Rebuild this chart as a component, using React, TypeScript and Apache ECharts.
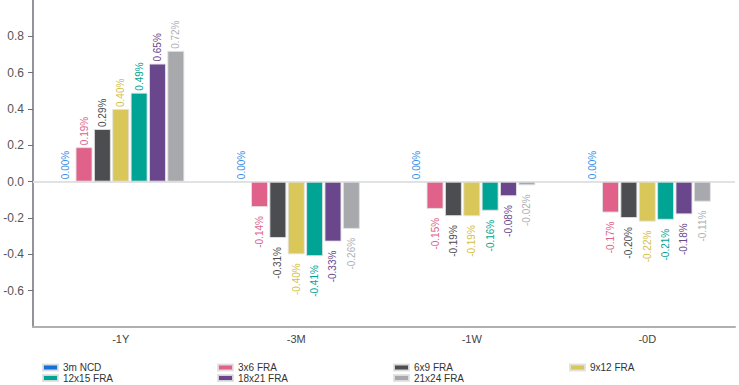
import React, { useEffect, useRef } from "react";
import * as echarts from "echarts";

const categories = ["-1Y", "-3M", "-1W", "-0D"];
const seriesNames = ["3m NCD", "3x6 FRA", "6x9 FRA", "9x12 FRA", "12x15 FRA", "18x21 FRA", "21x24 FRA"];
const colors = ["#1470d6", "#e0628a", "#4b4d51", "#d9c75a", "#00a494", "#6a478c", "#a8a9ad"];
const ncd3m = [0.0, 0.0, 0.0, 0.0];
const fra3x6 = [0.19, -0.14, -0.15, -0.17];
const fra6x9 = [0.29, -0.31, -0.19, -0.2];
const fra9x12 = [0.4, -0.4, -0.19, -0.22];
const fra12x15 = [0.49, -0.41, -0.16, -0.21];
const fra18x21 = [0.65, -0.33, -0.08, -0.18];
const fra21x24 = [0.72, -0.26, -0.02, -0.11];
const seriesValues = [ncd3m, fra3x6, fra6x9, fra9x12, fra12x15, fra18x21, fra21x24];
const labelColors = ["#3a8ee6", "#e0628a", "#4b4d51", "#d4c04a", "#00a494", "#6a478c", "#b0b1b4"];

// legend layout: 4 columns x 2 rows
const legendCols = [42, 217, 393, 569];
const legendRows = [362.5, 373];

export default function App() {
  const ref = useRef<HTMLDivElement>(null);
  useEffect(() => {
    if (!ref.current) return;
    const chart = echarts.init(ref.current, undefined, { renderer: "svg" });
    const font = "Liberation Sans, Arial, sans-serif";
    const series = seriesNames.map((name, si) => ({
      name,
      type: "bar",
      barWidth: 17,
      barGap: "8%",
      barCategoryGap: "27%",
      itemStyle: { color: colors[si], borderColor: "rgba(225,225,225,0.9)", borderWidth: 1 },
      data: seriesValues[si].map((v) => ({
        value: v,
        label: {
          show: true,
          position: v >= 0 ? "top" : "bottom",
          distance: v >= 0 ? 2 : 9,
          rotate: 90,
          align: v >= 0 ? "left" : "right",
          verticalAlign: "middle",
          formatter: () => v.toFixed(2) + "%",
          color: labelColors[si],
          fontSize: 10,
          fontFamily: font,
        },
      })),
      markLine:
        si === 0
          ? {
              silent: true,
              symbol: "none",
              label: { show: false },
              lineStyle: { color: "#e2e2e2", width: 2, type: "solid" },
              data: [{ yAxis: 0 }],
              z: 1,
            }
          : undefined,
    }));
    const legends = seriesNames.map((name, i) => ({
      data: [name],
      left: legendCols[i % 4],
      top: legendRows[Math.floor(i / 4)],
      padding: 0,
      itemWidth: 15,
      itemHeight: 6,
      itemGap: 0,
      icon: "rect",
      selectedMode: false,
      textStyle: { fontSize: 10, color: "#333", fontFamily: font, padding: [0, 0, 0, 0] },
    }));
    chart.setOption({
      animation: false,
      color: colors,
      legend: legends,
      grid: { left: 33, right: 4, top: 0, bottom: 58, containLabel: false },
      xAxis: {
        type: "category",
        data: categories,
        axisLine: { show: true, onZero: false, lineStyle: { color: "#b0b0b0", width: 2 } },
        axisTick: { show: false },
        axisLabel: { color: "#444", fontSize: 11, fontFamily: font, margin: 6 },
        splitLine: { show: false },
      },
      yAxis: {
        type: "value",
        min: -0.8,
        max: 1.0,
        interval: 0.2,
        axisLine: { show: true, lineStyle: { color: "#6e7079", width: 1.5 } },
        axisTick: { show: true, length: 5, lineStyle: { color: "#6e7079" } },
        axisLabel: {
          color: "#555",
          fontSize: 12,
          fontFamily: font,
          margin: 9,
          showMinLabel: false,
          showMaxLabel: false,
          formatter: (v: number) => v.toFixed(1),
        },
        splitLine: { show: false },
      },
      series,
    });
    return () => chart.dispose();
  }, []);
  return (
    <div
      ref={ref}
      style={{ position: "absolute", left: 0, top: 0, width: 739, height: 385 }}
    />
  );
}
